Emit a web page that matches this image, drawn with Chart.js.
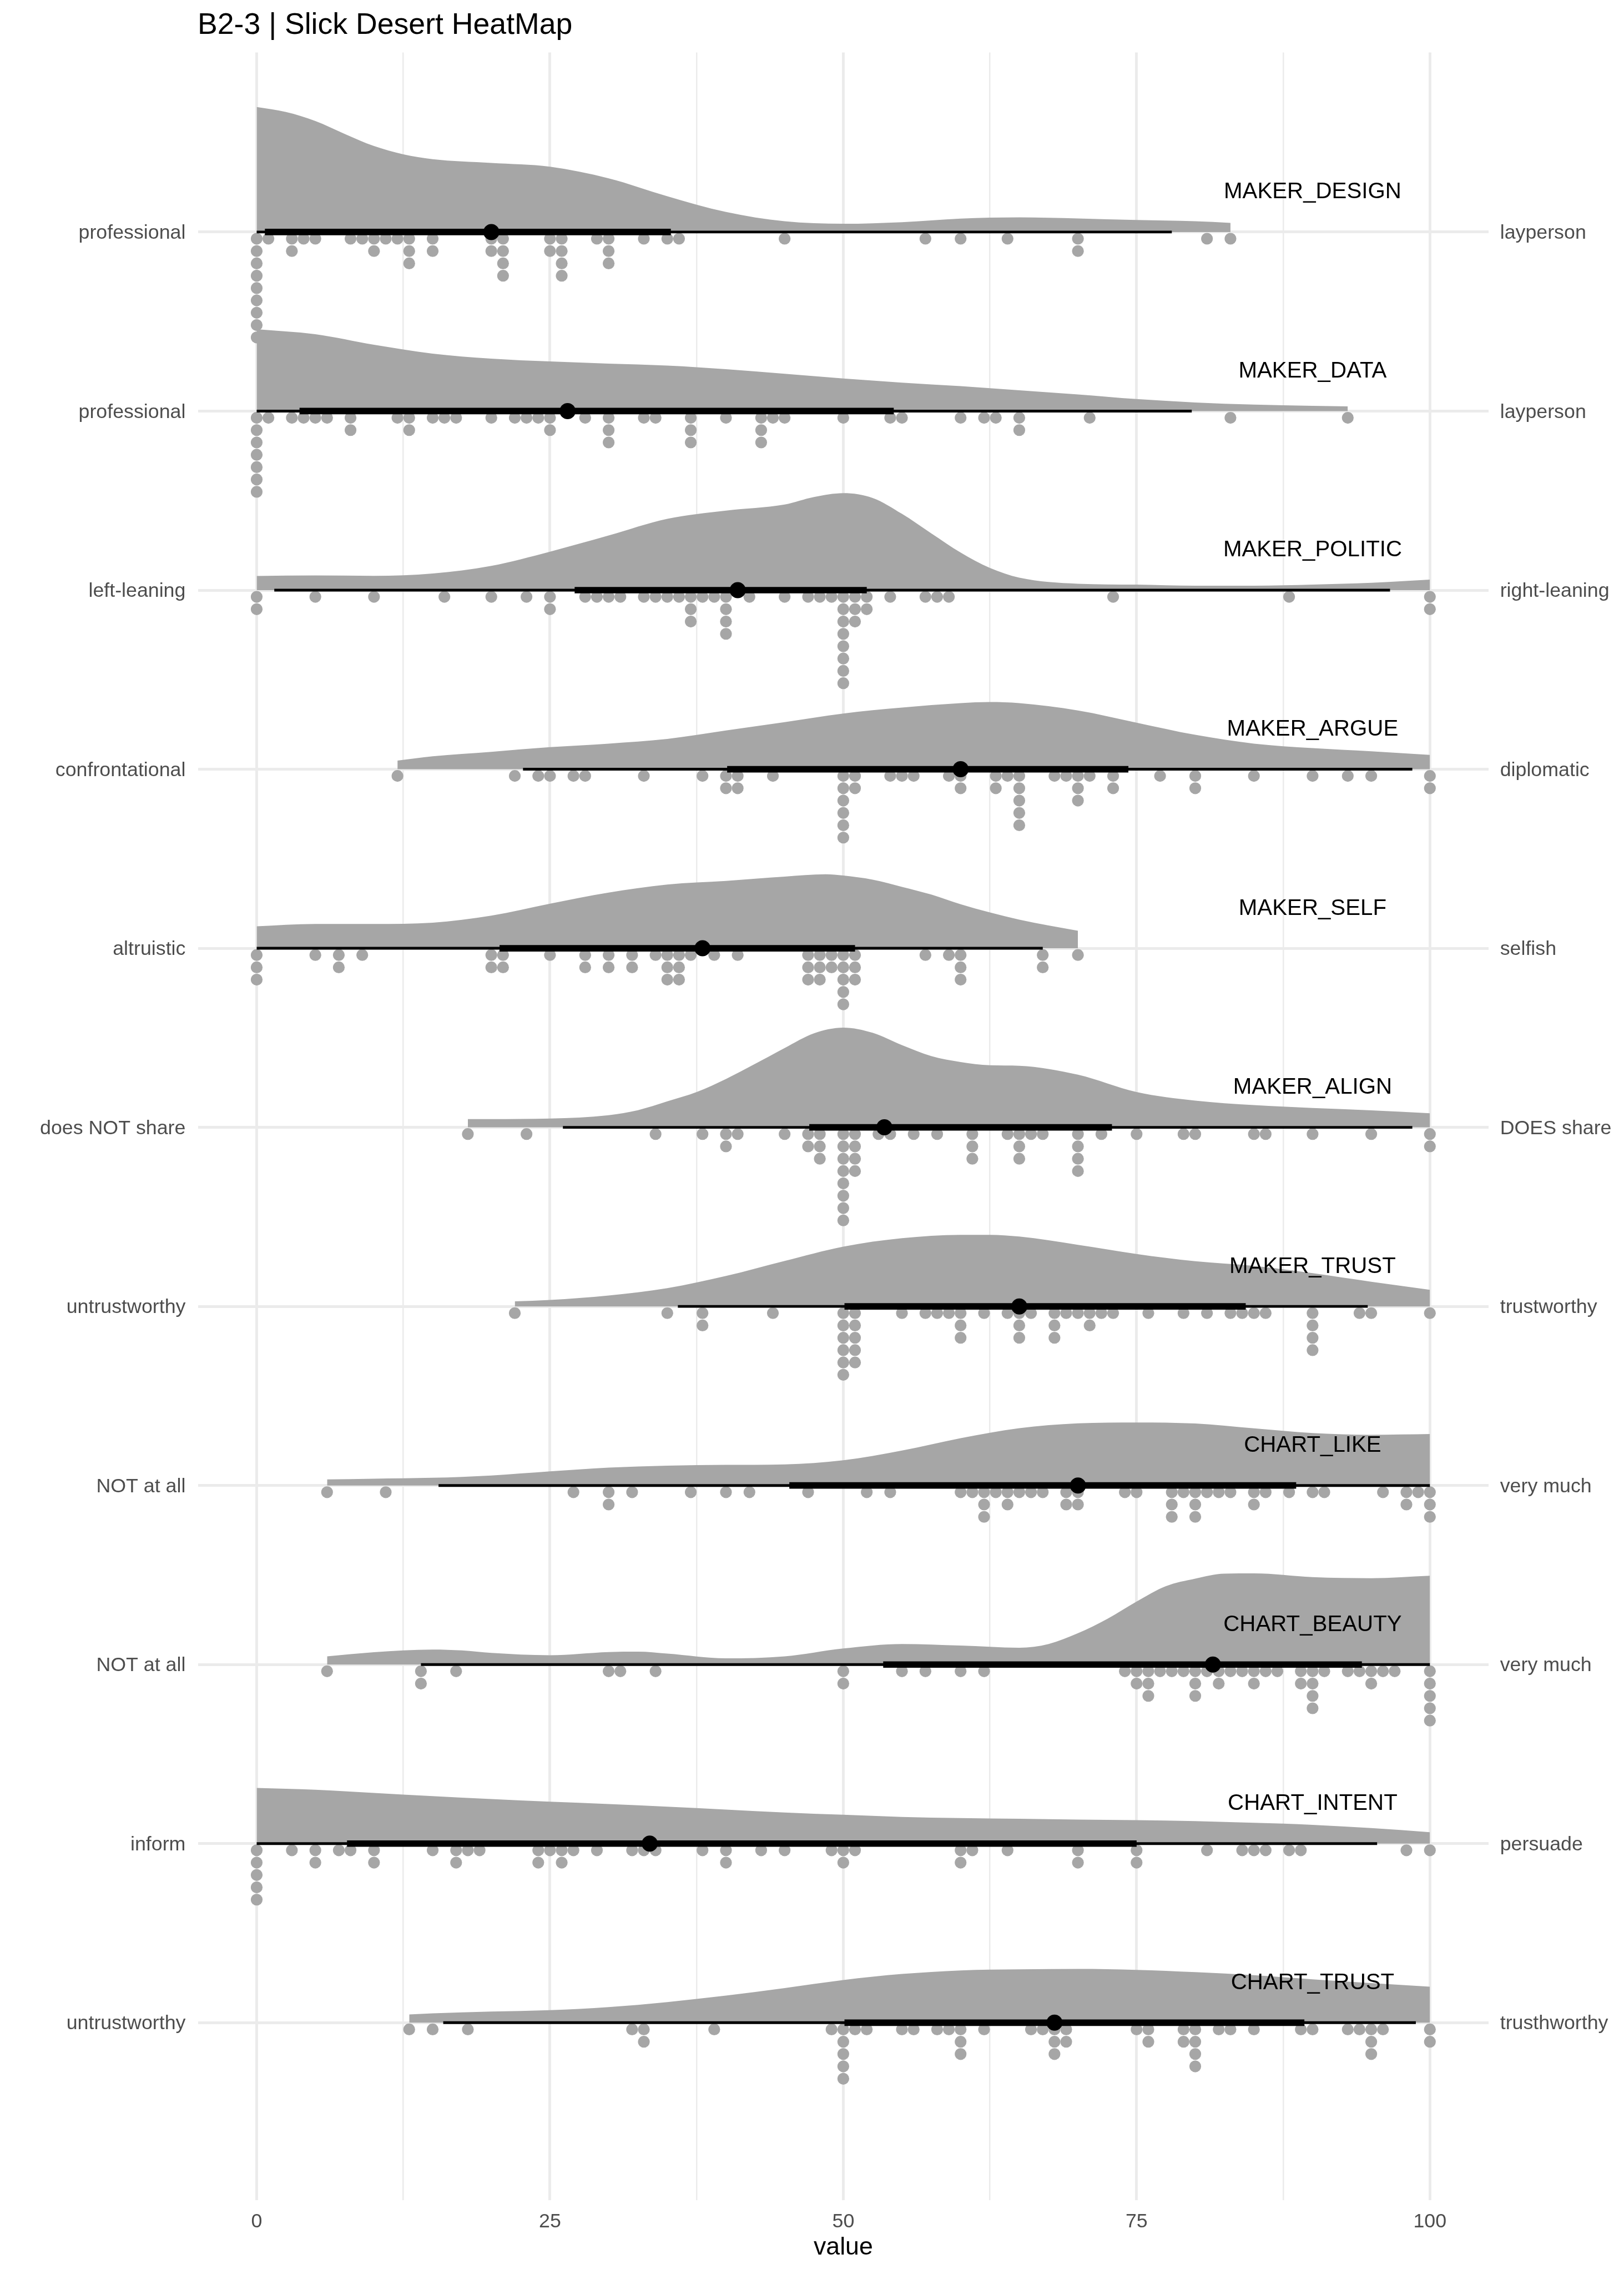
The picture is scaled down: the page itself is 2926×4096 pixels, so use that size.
<!DOCTYPE html>
<html><head><meta charset="utf-8">
<script src="https://cdn.jsdelivr.net/npm/chart.js@4.4.1/dist/chart.umd.min.js"></script>
<style>html,body{margin:0;padding:0;background:#fff;}canvas{display:block;}</style>
</head><body>
<canvas id="c" width="2926" height="4096" style="width:2926px;height:4096px"></canvas>
<script>
// ---------------- DATA ----------------
const titleText = 'B2-3 | Slick Desert HeatMap';
const categories = ['MAKER_DESIGN','MAKER_DATA','MAKER_POLITIC','MAKER_ARGUE','MAKER_SELF','MAKER_ALIGN','MAKER_TRUST','CHART_LIKE','CHART_BEAUTY','CHART_INTENT','CHART_TRUST'];
const leftLabels = ['professional','professional','left-leaning','confrontational','altruistic','does NOT share','untrustworthy','NOT at all','NOT at all','inform','untrustworthy'];
const rightLabels = ['layperson','layperson','right-leaning','diplomatic','selfish','DOES share','trustworthy','very much','very much','persuade','trusthworthy'];
const majorTicks = [0, 25, 50, 75, 100];
const minorTicks = [12.5, 37.5, 62.5, 87.5];
const xAxisTitle = 'value';

// raw responses (one entry per respondent)
const makerDesign = [0,0,0,0,0,0,0,0,0,1,3,3,4,5,8,9,10,10,11,12,13,13,13,15,15,20,20,21,21,21,21,25,25,26,26,26,26,29,30,30,30,33,35,36,45,57,60,64,70,70,81,83];
const makerData = [0,0,0,0,0,0,0,1,3,4,5,6,8,8,12,13,13,15,16,17,20,22,23,24,25,25,28,30,30,30,33,34,37,37,37,40,43,43,43,44,45,50,54,55,60,62,63,65,65,71,83,93];
const makerPolitic = [0,0,5,10,16,20,23,25,25,28,29,30,31,33,34,35,36,37,37,37,38,39,40,40,40,40,42,45,47,48,49,50,50,50,50,50,50,50,50,51,51,51,52,52,54,57,58,59,73,88,100,100];
const makerArgue = [12,22,24,25,27,28,33,38,40,40,41,41,44,50,50,50,50,50,50,51,51,54,55,56,59,60,60,63,63,64,65,65,65,65,65,68,69,70,70,70,71,73,73,77,80,80,85,90,93,95,100,100];
const makerSelf = [0,0,0,5,7,7,9,20,20,21,21,25,28,28,30,30,32,32,34,35,35,35,36,36,36,37,39,41,47,47,47,48,48,48,49,49,50,50,50,50,50,51,51,51,57,59,60,60,60,67,67,70];
const makerAlign = [18,23,34,38,40,40,41,45,47,47,48,48,48,50,50,50,50,50,50,50,50,51,51,51,51,53,54,56,58,61,61,61,64,65,65,65,66,67,70,70,70,70,72,75,79,80,85,86,90,95,100,100];
const makerTrust = [22,35,38,38,44,50,50,50,50,50,50,51,51,51,51,51,55,57,58,59,60,60,60,62,64,65,65,65,66,68,68,68,69,70,71,71,72,73,76,79,81,83,84,85,86,90,90,90,90,94,95,100];
const chartLike = [6,11,27,30,30,32,37,40,42,47,52,54,60,61,62,62,62,63,64,64,65,66,67,69,69,70,70,74,75,78,78,78,79,80,80,80,81,82,83,85,85,86,88,90,91,96,98,98,99,100,100,100];
const chartBeauty = [6,14,14,17,30,31,34,50,50,55,57,60,62,74,75,75,76,76,76,77,78,79,80,80,80,81,82,82,83,84,85,85,86,87,89,89,90,90,90,90,91,93,94,95,95,96,97,100,100,100,100,100];
const chartIntent = [0,0,0,0,0,3,5,5,7,8,10,10,15,17,17,18,19,24,24,25,26,26,27,29,32,33,34,38,40,40,43,45,49,50,50,51,60,60,61,64,70,70,75,75,81,84,85,86,88,89,98,100];
const chartTrust = [13,15,18,32,33,33,39,49,50,50,50,50,50,51,52,55,56,58,59,60,60,60,62,66,67,68,68,68,69,69,75,76,76,79,79,80,80,80,80,82,83,85,89,90,93,94,95,95,95,96,100,100];

// density curves: [value, density height in % of row spacing]
const densDesign = [[0,69.8],[2.5,67],[5,62],[7.5,54.8],[10,48],[12.5,43.4],[15,40.7],[20,38.6],[25,36.5],[30,30],[35,20],[40,11.2],[45,6],[50,4.6],[55,5.5],[60,7.5],[65,8.2],[70,7.6],[75,6.7],[80,6],[83,5.1]];
const densData = [[0,45.7],[5,42.9],[10,37],[15,32.1],[20,29.3],[25,27.7],[30,26.5],[35,25.4],[40,23.4],[45,20.8],[50,18.2],[55,15.9],[60,13.9],[65,11.6],[70,9.3],[75,6.7],[80,4.8],[85,3.6],[90,2.9],[93,2.6]];
const densPolitic = [[0,7.9],[5,8.2],[10,8.0],[15,9.3],[20,13.6],[25,21.5],[30,30.5],[35,39.8],[40,44.4],[45,47.8],[47.5,52],[50,54.2],[52.5,51.5],[55,42.6],[57.5,31.7],[60,21],[62.5,12.4],[65,7],[70,3.6],[75,3.1],[80,2.5],[85,2.5],[90,3.1],[95,4.1],[100,5.9]];
const densArgue = [[12,4.8],[15,7.2],[20,9.7],[25,12.3],[30,14.3],[35,16.9],[40,21.6],[45,26.3],[50,31.1],[55,34.4],[60,36.9],[62.5,37.5],[65,36.9],[70,32.8],[75,26],[80,19.2],[85,14.3],[90,11.8],[95,10],[100,8]];
const densSelf = [[0,12.3],[5,13.6],[10,13.6],[15,14.3],[20,18.2],[25,24.9],[30,31.1],[35,35.6],[40,37.6],[45,40],[48.5,41.3],[50,40.6],[52.5,38.3],[55,34.3],[57.5,30],[60,24.6],[62.5,20],[65,16],[67.5,12.7],[70,9.8]];
const densAlign = [[18,4.6],[20,4.6],[25,4.9],[30,6.8],[32.5,9.6],[35,14.5],[37.5,19.7],[40,27],[42.5,35.5],[45,44.3],[47.5,52.5],[50,55.7],[52.5,52.8],[55,45.9],[57.5,39.8],[60,36.5],[62.5,34.7],[65,34.4],[70,29.4],[75,19.7],[80,14.9],[85,12.4],[90,10.8],[95,9.5],[100,7.9]];
const densTrust = [[22,2.8],[25,3.6],[30,6.1],[35,10.2],[40,17],[45,25.4],[50,33.4],[55,38.1],[60,40],[62.5,40],[65,39],[70,34.4],[75,29.3],[80,25.2],[85,22.6],[90,18.6],[95,13.8],[100,9.3]];
const densLike = [[6,3.4],[10,3.8],[15,4.3],[20,5.6],[25,7.9],[30,10],[35,11.1],[40,11.5],[45,11.8],[50,14.1],[55,19.5],[60,26.4],[65,32],[70,34.7],[75,35.2],[80,34.6],[85,31.9],[90,29.3],[95,28.3],[100,28.7]];
const densBeauty = [[6,4.6],[10,6.9],[12.5,7.9],[15,8.4],[17.5,7.9],[20,6.5],[25,5.2],[30,7],[32.5,7.2],[35,6.1],[40,3.5],[45,4.6],[50,9],[55,11.5],[60,10.6],[65,9.4],[67.5,11.5],[70,17.5],[72.5,25.5],[75,35.2],[77.5,43.8],[80,48],[82.5,50.8],[85,50.9],[90,48.8],[95,48.2],[100,49.6]];
const densIntent = [[0,31.1],[5,30.1],[10,28.3],[15,26.5],[20,24.9],[25,23.4],[30,22.1],[35,20.6],[40,19],[45,17.4],[50,16.1],[55,14.9],[60,14.3],[65,13.9],[70,13.4],[75,13.1],[80,12.6],[85,11.6],[90,10.5],[95,8.7],[100,6.4]];
const densChartTrust = [[13,4.6],[15,5.2],[20,6.2],[25,7],[30,8.7],[35,11.5],[40,15.1],[45,19.3],[50,23.8],[55,27.2],[60,29.2],[65,29.8],[70,30],[75,29.5],[80,28.2],[85,26.5],[90,24.2],[95,22.1],[100,20.1]];

// point + interval summaries (median, 66% and 95% intervals)
const medians = [20, 26.5, 41, 60, 38, 53.5, 65, 70, 81.5, 33.5, 68];
const lo66 = [0.7, 3.65, 27.1, 40.1, 20.7, 47.1, 50.1, 45.4, 53.4, 7.7, 50.1];
const hi66 = [35.3, 54.3, 52, 74.3, 51, 72.9, 84.3, 88.6, 94.2, 75, 89.3];
const lo95 = [0, 0, 1.5, 22.7, 0, 26.1, 35.9, 15.5, 14, 0, 15.9];
const hi95 = [78, 79.7, 96.6, 98.5, 67, 98.5, 94.7, 100, 100, 95.5, 98.8];

const rowValues = [makerDesign, makerData, makerPolitic, makerArgue, makerSelf, makerAlign, makerTrust, chartLike, chartBeauty, chartIntent, chartTrust];
const rowDensity = [densDesign, densData, densPolitic, densArgue, densSelf, densAlign, densTrust, densLike, densBeauty, densIntent, densChartTrust];

// ---------------- STYLE / LAYOUT ----------------
const S = 0.975;
const FONT = '"Liberation Sans", Arial, Helvetica, sans-serif';
const GRAY = '#a6a6a6';
const GRID = '#ebebeb';
const DOT_FIRST = 0.0375;   // row units
const DOT_STEP = 0.0689;    // row units
const LABEL_LIFT = 0.222;   // row units
const LABEL_X = 90;

const n = categories.length;
const rowBase = i => n - i;

Chart.defaults.font.family = FONT;

const datasets = [];
categories.forEach((cat, i) => {
  const base = rowBase(i);
  datasets.push({
    type: 'line', label: cat + ' density',
    data: rowDensity[i].map(([x, h]) => ({x: x, y: base + h / 100})),
    fill: {value: base}, backgroundColor: GRAY,
    borderColor: 'rgba(0,0,0,0)', borderWidth: 0,
    pointRadius: 0, cubicInterpolationMode: 'monotone', order: 3
  });
  const counts = {};
  const pts = rowValues[i].map(v => {
    const k = counts[v] || 0; counts[v] = k + 1;
    return {x: v, y: base - (DOT_FIRST + k * DOT_STEP)};
  });
  datasets.push({
    type: 'scatter', label: cat + ' dots', data: pts,
    pointRadius: 10.6, pointHoverRadius: 10.6, backgroundColor: GRAY,
    borderWidth: 0, pointBorderWidth: 0, order: 4
  });
  datasets.push({
    type: 'line', label: cat + ' 95%',
    data: [{x: lo95[i], y: base}, {x: hi95[i], y: base}],
    borderColor: '#000', borderWidth: 4.9, borderCapStyle: 'butt',
    pointRadius: 0, fill: false, order: 2
  });
  datasets.push({
    type: 'line', label: cat + ' 66%',
    data: [{x: lo66[i], y: base}, {x: hi66[i], y: base}],
    borderColor: '#000', borderWidth: 11.7, borderCapStyle: 'butt',
    pointRadius: 0, fill: false, order: 1
  });
  datasets.push({
    type: 'scatter', label: cat + ' median',
    data: [{x: medians[i], y: base}],
    pointRadius: 14.5, pointHoverRadius: 14.5, backgroundColor: '#000',
    borderWidth: 0, pointBorderWidth: 0, order: 0
  });
});

const yMin = 0.0076, yMax = 12.0024;
const rowTicks = categories.map((c, i) => ({value: rowBase(i)}));

const textPlugin = {
  id: 'texts',
  afterDraw(chart) {
    const {ctx} = chart;
    const x = chart.scales.x, y = chart.scales.y;
    ctx.save();
    ctx.fillStyle = '#000';
    ctx.font = (55 * S) + 'px ' + FONT;
    ctx.textAlign = 'left';
    ctx.textBaseline = 'alphabetic';
    ctx.fillText(titleText, 356, 60.8);
    ctx.font = (41.3 * S) + 'px ' + FONT;
    ctx.textAlign = 'center';
    ctx.textBaseline = 'middle';
    categories.forEach((c, i) => {
      ctx.fillText(c, x.getPixelForValue(LABEL_X), y.getPixelForValue(rowBase(i) + LABEL_LIFT));
    });
    ctx.restore();
  }
};

new Chart(document.getElementById('c'), {
  type: 'line',
  data: {datasets: datasets},
  plugins: [textPlugin],
  options: {
    responsive: false, devicePixelRatio: 1, animation: false, events: [],
    layout: {padding: {top: 94.6, left: 0, right: 0, bottom: 0}},
    plugins: {legend: {display: false}, tooltip: {enabled: false}, title: {display: false}},
    scales: {
      x: {
        type: 'linear', position: 'bottom', min: -5, max: 105,
        afterBuildTicks: s => { s.ticks = majorTicks.concat(minorTicks).sort((a, b) => a - b).map(v => ({value: v})); },
        afterFit: s => { s.height = 132.6; },
        border: {display: false},
        grid: {
          color: GRID, drawTicks: false,
          lineWidth: c => (c.tick && majorTicks.includes(c.tick.value)) ? 4.9 : 2.5
        },
        ticks: {
          autoSkip: false, maxRotation: 0, padding: 17,
          color: '#4d4d4d', font: {size: 36.7 * S},
          callback: v => majorTicks.includes(v) ? String(v) : ''
        },
        title: {display: true, text: xAxisTitle, color: '#000', font: {size: 45.8 * S}, padding: {top: 0, bottom: 21}}
      },
      y: {
        type: 'linear', position: 'left', min: yMin, max: yMax,
        afterBuildTicks: s => { s.ticks = rowTicks.map(t => ({value: t.value})); },
        afterFit: s => { s.width = 356.8; },
        border: {display: false},
        grid: {color: GRID, lineWidth: 4.9, drawTicks: false},
        ticks: {
          autoSkip: false, padding: 22.4, labelOffset: 2.2, color: '#4d4d4d', font: {size: 36.7 * S},
          callback: v => leftLabels[n - v]
        }
      },
      y2: {
        type: 'linear', position: 'right', min: yMin, max: yMax,
        afterBuildTicks: s => { s.ticks = rowTicks.map(t => ({value: t.value})); },
        afterFit: s => { s.width = 244; },
        border: {display: false},
        grid: {display: false, drawTicks: false},
        ticks: {
          autoSkip: false, padding: 20.7, labelOffset: 2.2, color: '#4d4d4d', font: {size: 36.7 * S},
          callback: v => rightLabels[n - v]
        }
      }
    }
  }
});
</script>
</body></html>
